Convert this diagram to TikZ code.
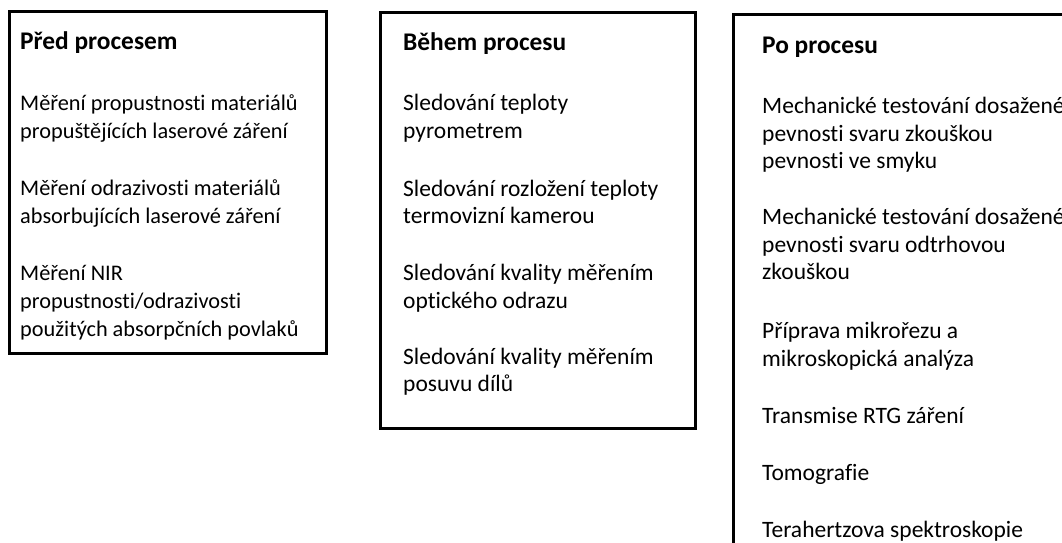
\documentclass[tikz,border=0pt]{standalone}
\usepackage{fontspec}
\setmainfont{Carlito}[Ligatures=NoCommon]
\begin{document}
\begin{tikzpicture}[x=1pt,y=-1pt,
  frame/.style={draw=black,line width=3pt},
  ln/.style={anchor=base west,inner sep=0pt,text=black,font=\fontsize{23.5}{28}\selectfont},
  lnA/.style={ln,font=\fontsize{22.3}{27}\selectfont},
  hd/.style={ln,font=\fontsize{25.4}{30}\selectfont\bfseries}]
\useasboundingbox (0,0) rectangle (1062,543);
\clip (0,0) rectangle (1062,543);
\fill[white] (0,0) rectangle (1062,543);
% frames
\draw[frame] (9,12) rectangle (326,353) coordinate (b1);
\draw[frame] (380,13) rectangle (695,428) coordinate (b2);
\draw[frame] (733,15) rectangle (1080,570) coordinate (b3);
% box 1
\node[hd] (a0) at (20,50) {Před procesem};
\node[lnA] (a1) at (20,110) {Měření propustnosti materiálů};
\node[lnA] (a2) at (20,138) {propuštějících laserové záření};
\node[lnA] (a3) at (20,195) {Měření odrazivosti materiálů};
\node[lnA] (a4) at (20,223) {absorbujících laserové záření};
\node[lnA] (a5) at (20,280) {Měření NIR};
\node[lnA] (a6) at (20,308) {propustnosti/odrazivosti};
\node[lnA] (a7) at (20,336) {použitých absorpčních povlaků};
% box 2
\node[hd] (c0) at (403,51) {Během procesu};
\node[ln] (c1) at (403,110) {Sledování teploty};
\node[ln] (c2) at (403,138) {pyrometrem};
\node[ln] (c3) at (403,196) {Sledování rozložení teploty};
\node[ln] (c4) at (403,223) {termovizní kamerou};
\node[ln] (c5) at (403,280) {Sledování kvality měřením};
\node[ln] (c6) at (403,308) {optického odrazu};
\node[ln] (c7) at (403,364) {Sledování kvality měřením};
\node[ln] (c8) at (403,391) {posuvu dílů};
% box 3
\node[hd] (d0) at (762,53) {Po procesu};
\node[ln] (d1) at (762,113) {Mechanické testování dosažené};
\node[ln] (d2) at (762,141) {pevnosti svaru zkouškou};
\node[ln] (d3) at (762,168) {pevnosti ve smyku};
\node[ln] (d4) at (762,224) {Mechanické testování dosažené};
\node[ln] (d5) at (762,252) {pevnosti svaru odtrhovou};
\node[ln] (d6) at (762,279) {zkouškou};
\node[ln] (d7) at (762,338) {Příprava mikrořezu a};
\node[ln] (d8) at (762,366) {mikroskopická analýza};
\node[ln] (d9) at (762,423) {Transmise RTG záření};
\node[ln] (d10) at (762,480) {Tomografie};
\node[ln] (d11) at (762,537) {Terahertzova spektroskopie};
\end{tikzpicture}
\end{document}
